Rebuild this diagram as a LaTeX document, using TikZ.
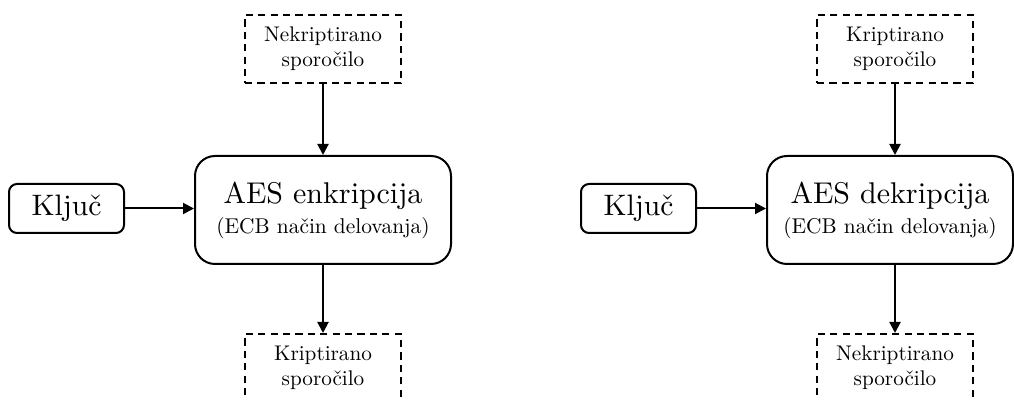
\documentclass[tikz,border=0pt]{standalone}
\usepackage{fontspec}
\setmainfont{lmroman10-regular.otf}
\usetikzlibrary{arrows.meta}

\tikzset{
  msgbox/.style={draw, line width=1pt, dash pattern=on 3.6pt off 2.6pt,
    minimum width=78pt, minimum height=34pt, inner sep=0pt, align=center,
    font=\fontsize{10.6}{12.6}\selectfont},
  corebox/.style={draw, line width=1pt, rounded corners=10pt,
    minimum height=54pt, inner sep=0pt, align=center},
  keybox/.style={draw, line width=1pt, rounded corners=4pt,
    minimum width=57.5pt, minimum height=24.5pt, inner sep=0pt,
    font=\fontsize{14.8}{18}\selectfont},
  flow/.style={line width=1pt, -{Triangle[length=5.5pt,width=5.5pt]}}
}

\newcommand{\bigline}{\fontsize{15}{18}\selectfont}
\newcommand{\smallline}{\fontsize{10.7}{12.6}\selectfont}

\begin{document}
\begin{tikzpicture}[x=0.5pt,y=-0.5pt]
  \useasboundingbox (0,0) rectangle (1014,400);

  % encryption
  \node[msgbox] (plainA) at (323,49) {Nekriptirano\\sporočilo};
  \node[corebox, minimum width=128pt] (aesA) at (323,210)
    {\bigline AES enkripcija\\[3pt]\smallline (ECB način delovanja)};
  \node[keybox] (keyA) at (66.5,208.5) {Ključ};
  \node[msgbox] (cipherA) at (323,368) {Kriptirano\\sporočilo};

  \draw[flow] (plainA.south) -- (plainA.south |- aesA.north);
  \draw[flow] (keyA.east) -- (keyA.east -| aesA.west);
  \draw[flow] (aesA.south) -- (aesA.south |- cipherA.north);

  % decryption
  \node[msgbox] (cipherB) at (895,49) {Kriptirano\\sporočilo};
  \node[corebox, minimum width=123pt] (aesB) at (890,210)
    {\bigline AES dekripcija\\[3pt]\smallline (ECB način delovanja)};
  \node[keybox] (keyB) at (638.5,208.5) {Ključ};
  \node[msgbox] (plainB) at (895,368) {Nekriptirano\\sporočilo};

  \draw[flow] (cipherB.south) -- (cipherB.south |- aesB.north);
  \draw[flow] (keyB.east) -- (keyB.east -| aesB.west);
  \draw[flow] (cipherB.south |- aesB.south) -- (plainB.north);
\end{tikzpicture}
\end{document}
